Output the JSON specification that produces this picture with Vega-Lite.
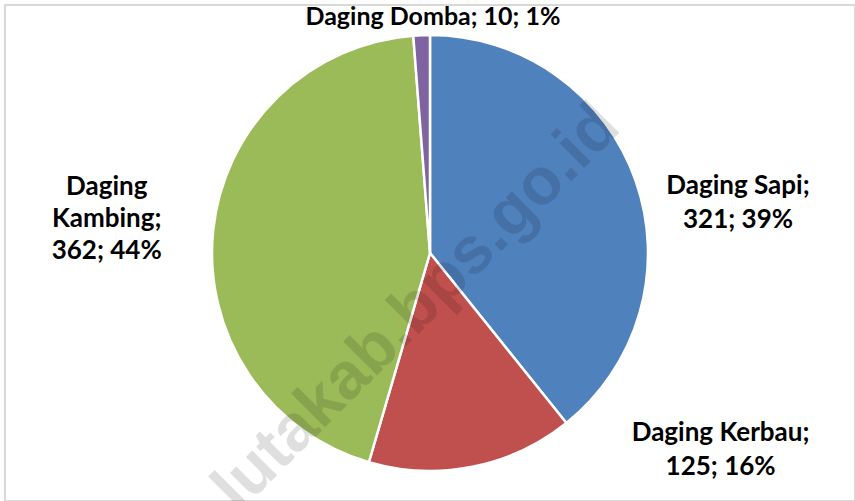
{
  "$schema": "https://vega.github.io/schema/vega-lite/v6.json",
  "width": 850,
  "height": 496,
  "autosize": {"type": "none"},
  "padding": {"left": 5, "top": 5, "right": 0, "bottom": 0},
  "background": "white",
  "config": {"view": {"stroke": null}},
  "data": {
    "values": [
      {"o": 1, "name": "Daging Sapi", "value": 321, "label": "Daging Sapi;\n321; 39%"},
      {"o": 2, "name": "Daging Kerbau", "value": 125, "label": "Daging Kerbau;\n125; 16%"},
      {"o": 3, "name": "Daging Kambing", "value": 362, "label": "Daging\nKambing;\n362; 44%"},
      {"o": 4, "name": "Daging Domba", "value": 10, "label": "Daging Domba; 10; 1%"}
    ]
  },
  "layer": [
    {
      "data": {"values": [{"frame": 1}]},
      "mark": {"type": "rect", "fill": null, "stroke": "#d9d9d9", "strokeWidth": 2},
      "encoding": {}
    },
    {
      "mark": {"type": "arc", "outerRadius": 218, "stroke": "white", "strokeWidth": 2.5},
      "encoding": {
        "theta": {"field": "value", "type": "quantitative", "stack": true},
        "order": {"field": "o", "type": "quantitative"},
        "color": {
          "field": "name", "type": "nominal", "legend": null,
          "scale": {
            "domain": ["Daging Sapi", "Daging Kerbau", "Daging Kambing", "Daging Domba"],
            "range": ["#4F81BD", "#C0504D", "#9BBB59", "#8064A2"]
          }
        }
      }
    },
    {
      "data": {"values": [{"wm": "lutakab.bps.go.id"}]},
      "mark": {"type": "text", "angle": -45, "align": "center", "baseline": "middle", "font": "Liberation Sans", "fontWeight": "bold", "fontSize": 66, "fill": "black", "opacity": 0.12, "dx": -48, "dy": 29},
      "encoding": {"text": {"field": "wm", "type": "nominal"}}
    },
    {
      "mark": {"type": "text", "radius": 300, "dx": 25, "dy": 32, "font": "Lato", "fontWeight": "bold", "fontSize": 26, "lineHeight": 34, "lineBreak": "\n", "align": "center", "baseline": "middle"},
      "encoding": {
        "theta": {"field": "value", "type": "quantitative", "stack": true},
        "order": {"field": "o", "type": "quantitative"},
        "detail": {"field": "name", "type": "nominal"},
        "color": {"value": "black"},
        "text": {"condition": {"test": "datum.name === 'Daging Sapi'", "field": "label"}, "value": ""}
      }
    },
    {
      "mark": {"type": "text", "radius": 260, "dx": 240, "dy": -75, "font": "Lato", "fontWeight": "bold", "fontSize": 26, "lineHeight": 34, "lineBreak": "\n", "align": "center", "baseline": "middle"},
      "encoding": {
        "theta": {"field": "value", "type": "quantitative", "stack": true},
        "order": {"field": "o", "type": "quantitative"},
        "detail": {"field": "name", "type": "nominal"},
        "color": {"value": "black"},
        "text": {"condition": {"test": "datum.name === 'Daging Kerbau'", "field": "label"}, "value": ""}
      }
    },
    {
      "mark": {"type": "text", "radius": 320, "dx": -5, "dy": -33, "font": "Lato", "fontWeight": "bold", "fontSize": 26, "lineHeight": 32, "lineBreak": "\n", "align": "center", "baseline": "middle"},
      "encoding": {
        "theta": {"field": "value", "type": "quantitative", "stack": true},
        "order": {"field": "o", "type": "quantitative"},
        "detail": {"field": "name", "type": "nominal"},
        "color": {"value": "black"},
        "text": {"condition": {"test": "datum.name === 'Daging Kambing'", "field": "label"}, "value": ""}
      }
    },
    {
      "mark": {"type": "text", "radius": 236, "dx": 12, "dy": 0, "font": "Lato", "fontWeight": "bold", "fontSize": 25, "lineHeight": 34, "lineBreak": "\n", "align": "center", "baseline": "middle"},
      "encoding": {
        "theta": {"field": "value", "type": "quantitative", "stack": true},
        "order": {"field": "o", "type": "quantitative"},
        "detail": {"field": "name", "type": "nominal"},
        "color": {"value": "black"},
        "text": {"condition": {"test": "datum.name === 'Daging Domba'", "field": "label"}, "value": ""}
      }
    }
  ]
}
